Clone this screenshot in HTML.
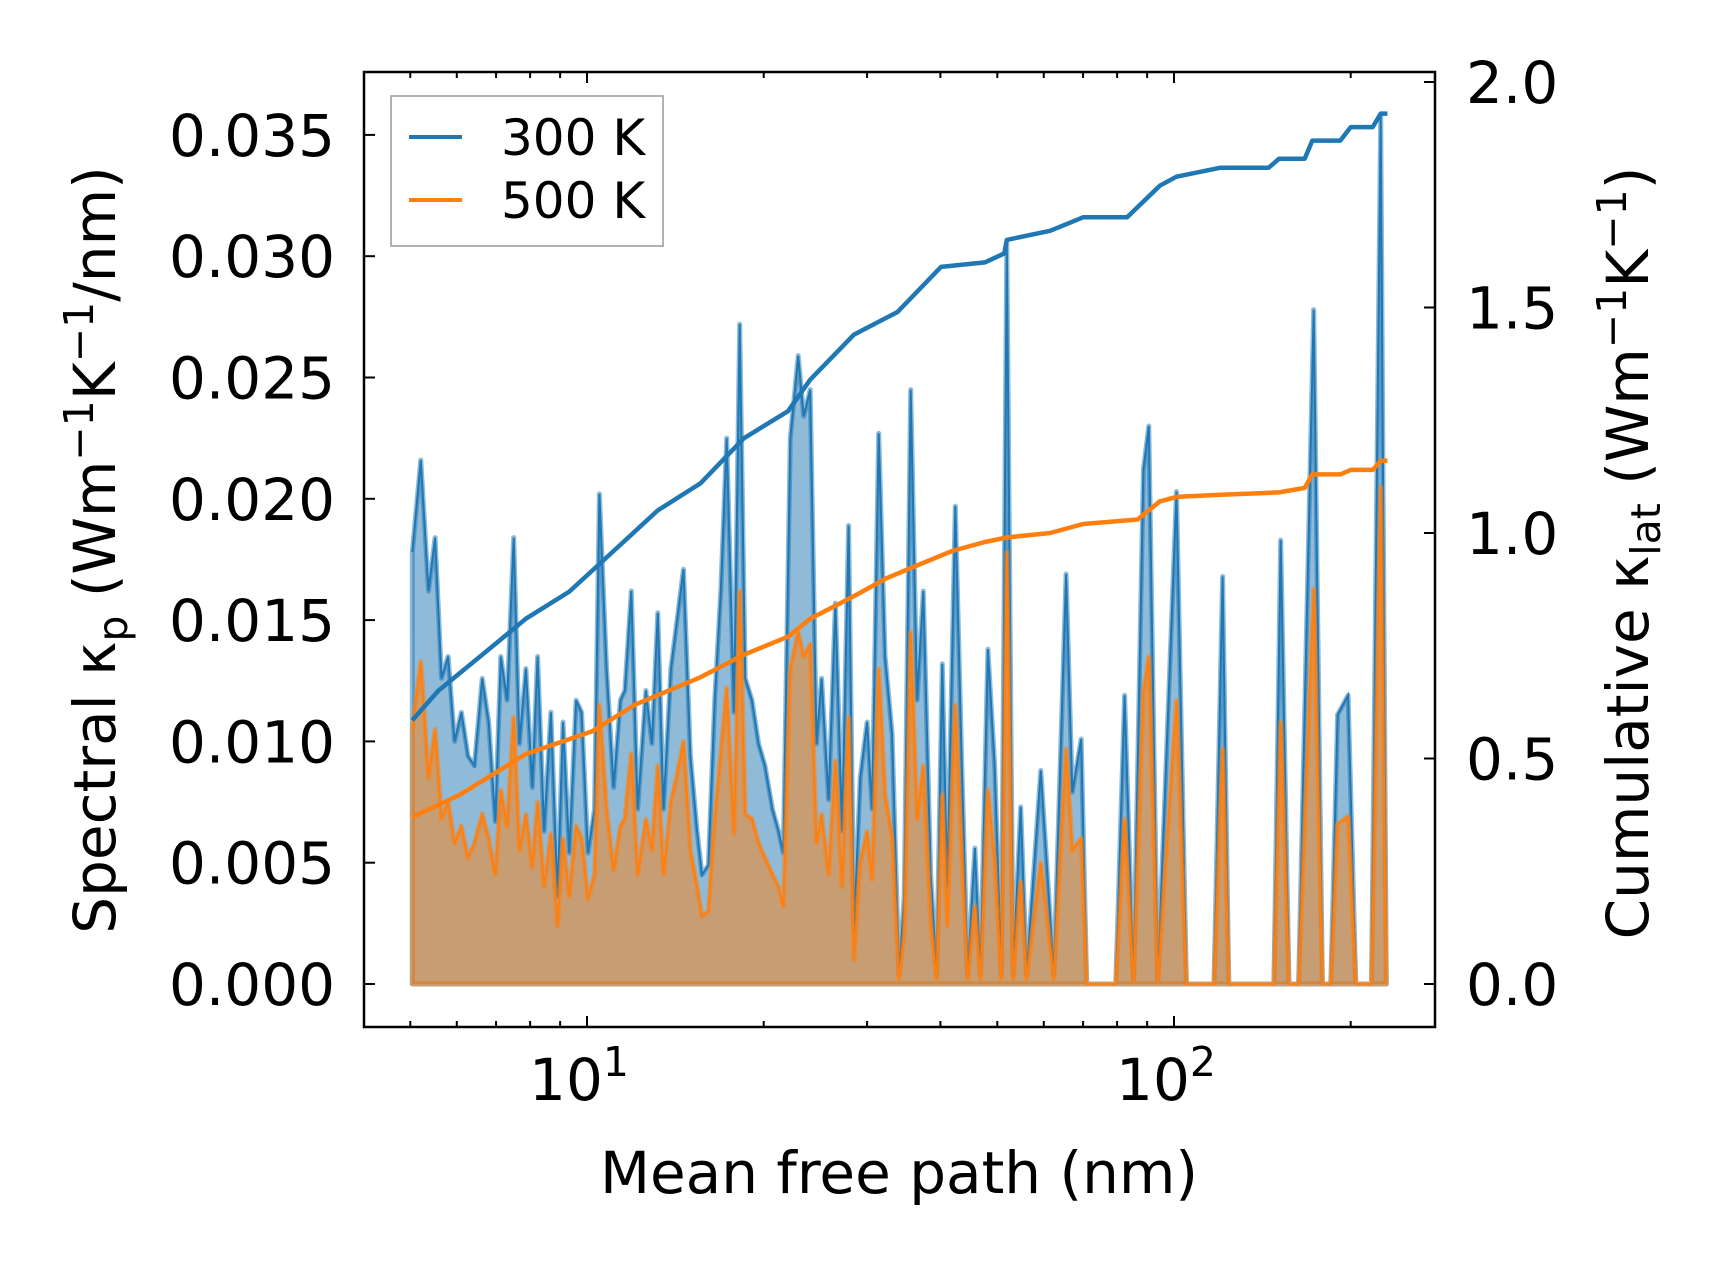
<!DOCTYPE html>
<html><head><meta charset="utf-8"><style>
html,body{margin:0;padding:0;background:#fff}
svg{display:block;font-family:"DejaVu Sans","Liberation Sans",sans-serif}
</style></head><body>
<svg id="chart" width="1716" height="1265" viewBox="0 0 1716 1265" style="position:absolute;left:0;top:0"></svg>
<script>
const mfp=[5.04,5.21,5.37,5.51,5.65,5.80,5.95,6.11,6.27,6.43,6.63,6.80,6.98,7.13,7.31,7.50,7.67,7.87,8.07,8.24,8.45,8.68,8.91,9.10,9.33,9.58,9.79,10.04,10.3,10.5,10.8,11.1,11.4,11.6,11.9,12.2,12.6,12.9,13.2,13.5,13.9,14.2,14.6,15.0,15.4,15.7,16.1,16.5,16.9,17.3,17.8,18.2,18.6,19.1,19.6,20.1,20.7,21.2,21.6,22.2,22.9,23.4,24.0,24.6,25.1,25.8,26.5,27.2,27.9,28.5,29.2,30.0,30.6,31.4,32.2,33.1,34.0,34.7,35.6,36.5,37.4,38.5,39.4,40.3,41.1,42.4,43.5,44.5,45.8,46.8,48.2,49.5,50.8,51.9,53.2,54.8,56.1,59.3,62.4,65.5,67.1,69.5,71.0,79.6,82.4,85.3,88.7,90.6,93.8,101,105,117,121,124,148,152,157,163,173,179,185,190,198,204,217,225,230];
const spec300=[.0178,.0216,.0162,.0184,.0126,.0135,.0100,.0112,.0094,.0090,.0126,.0108,.0067,.0135,.0117,.0184,.0099,.0130,.0081,.0135,.0063,.0112,.0036,.0108,.0054,.0117,.0112,.0054,.0072,.0202,.0130,.0081,.0117,.0121,.0162,.0072,.0121,.0099,.0153,.0072,.0130,.0148,.0171,.0094,.0063,.0045,.0049,.0117,.0162,.0225,.0112,.0272,.0126,.0117,.0099,.0090,.0072,.0063,.0054,.0225,.0259,.0234,.0245,.0099,.0126,.0076,.0157,.0063,.0189,.0022,.0085,.0108,.0072,.0227,.0135,.0103,.0004,.0036,.0245,.0117,.0162,.0045,.0004,.0132,.0040,.0197,.0090,.0004,.0056,.0004,.0138,.0090,.0004,.0305,.0004,.0073,.0004,.0088,.0004,.0169,.0079,.0101,0,0,.0119,0,.0212,.0230,0,.0203,0,0,.0168,0,0,.0183,0,0,.0278,0,0,.0111,.0119,0,0,.0358,0];
const spec500=[.0105,.0133,.0085,.0105,.0068,.0075,.0058,.0065,.0052,.0058,.0070,.0060,.0045,.0080,.0065,.0110,.0055,.0070,.0048,.0075,.0040,.0062,.0024,.0060,.0036,.0065,.0060,.0035,.0045,.0115,.0072,.0047,.0065,.0068,.0095,.0045,.0068,.0055,.0090,.0045,.0075,.0085,.0100,.0055,.0040,.0028,.0030,.0068,.0095,.0122,.0062,.0162,.0070,.0068,.0058,.0052,.0045,.0040,.0032,.0130,.0145,.0135,.0140,.0058,.0070,.0045,.0092,.0040,.0110,.0010,.0050,.0063,.0043,.0130,.0078,.0060,.0002,.0020,.0145,.0068,.0090,.0025,.0002,.0078,.0024,.0115,.0052,.0002,.0032,.0002,.0080,.0050,.0002,.0178,.0002,.0042,.0002,.0050,.0002,.0097,.0055,.0060,0,0,.0068,0,.0120,.0135,0,.0117,0,0,.0097,0,0,.0108,0,0,.0163,0,0,.0066,.0069,0,0,.0205,0];
const cumX300=[5.04,5.58,6.63,7.87,9.33,11.1,13.2,15.6,18.5,22.0,24.0,28.5,33.8,40.1,47.6,51.4,51.9,61.5,70.0,83.2,94.6,101,120,145,151,167,172,192,200,218,225,231];
const cum300=[.585,.65,.73,.81,.87,.96,1.05,1.11,1.21,1.27,1.34,1.44,1.49,1.59,1.60,1.62,1.65,1.67,1.70,1.70,1.77,1.79,1.81,1.81,1.83,1.83,1.87,1.87,1.90,1.90,1.93,1.93];
const cumX500=[5.04,6.08,7.87,10.2,12.1,15.6,18.5,22.0,24.0,28.5,32.4,36.8,41.9,47.6,51.9,61.5,70.0,86.7,94.6,101,120,151,167,172,192,200,218,225,231];
const cum500=[.37,.42,.51,.56,.62,.68,.73,.77,.81,.86,.90,.93,.96,.98,.99,1.00,1.02,1.03,1.07,1.08,1.085,1.09,1.10,1.13,1.13,1.14,1.14,1.16,1.16];
const leftTicks=["0.000","0.005","0.010","0.015","0.020","0.025","0.030","0.035"];
const rightTicks=["0.0","0.5","1.0","1.5","2.0"];
const xDecades=[1,2];

const L=364,R=1435,T=72,B=1027;
const sx=v=>587+Math.log10(v/10)*587;
const syL=v=>984-v/0.005*121.3;
const syR=v=>984-v*451;
const svg=document.getElementById('chart');
const NS='http://www.w3.org/2000/svg';
function mk(tag,attrs,parent){const e=document.createElementNS(NS,tag);for(const k in attrs)e.setAttribute(k,attrs[k]);(parent||svg).appendChild(e);return e;}

function area(xs,ys,color,name){
  let d='M'+sx(xs[0])+','+syL(0);
  xs.forEach((x,i)=>{d+=' L'+sx(x).toFixed(1)+','+syL(ys[i]).toFixed(1);});
  d+=' L'+sx(xs[xs.length-1])+','+syL(0)+' Z';
  const p=mk('path',{d:d,fill:color,'fill-opacity':0.5,stroke:color,'stroke-opacity':0.5,'stroke-width':5,'stroke-linejoin':'round'});
  
  
  const l=mk('polyline',{points:xs.map((x,i)=>sx(x).toFixed(1)+','+syL(ys[i]).toFixed(1)).join(' '),fill:'none',stroke:color,'stroke-width':2});
  
  
}
area(mfp,spec300,'#1f77b4','spectral-300k');
area(mfp,spec500,'#ff7f0e','spectral-500k');
function cum(xs,ys,color,name){
  const l=mk('polyline',{points:xs.map((x,i)=>sx(x).toFixed(1)+','+syR(ys[i]).toFixed(1)).join(' '),fill:'none',stroke:color,'stroke-width':4.5,'stroke-linejoin':'round'});
  
  
}
cum(cumX300,cum300,'#1f77b4','cumulative-300k');
cum(cumX500,cum500,'#ff7f0e','cumulative-500k');

const fr=mk('rect',{x:L,y:T,width:R-L,height:B-T,fill:'none',stroke:'#000','stroke-width':2.5});


leftTicks.forEach(t=>{const y=syL(parseFloat(t));
  mk('line',{x1:L,x2:L+11,y1:y,y2:y,stroke:'#000','stroke-width':2});
  const tx=mk('text',{x:L-29,y:y+21,'text-anchor':'end','font-size':58});tx.textContent=t;
  
  
});
rightTicks.forEach(t=>{const y=syR(parseFloat(t));
  mk('line',{x1:R,x2:R-11,y1:y,y2:y,stroke:'#000','stroke-width':2});
  const tx=mk('text',{x:R+31,y:y+21,'text-anchor':'start','font-size':58});tx.textContent=t;
  
  
});
for(let dec=0;dec<=2;dec++){for(let m=1;m<=9;m++){const v=m*Math.pow(10,dec);if(v<5||v>260)continue;const x=sx(v);const len=m===1?11:6;
  mk('line',{x1:x,x2:x,y1:B,y2:B-len,stroke:'#000','stroke-width':2});
  mk('line',{x1:x,x2:x,y1:T,y2:T+len,stroke:'#000','stroke-width':2});}}
xDecades.forEach(p=>{const x=sx(Math.pow(10,p));
  const tx=mk('text',{x:x-8,y:1100,'text-anchor':'middle','font-size':58});
  tx.appendChild(document.createTextNode('10'));
  const s=mk('tspan',{dy:-24,'font-size':41},tx);s.textContent=String(p);
  
  
});
</script>
<svg width="1716" height="1265" style="position:absolute;left:0;top:0;pointer-events:none">
  <g>
    <rect x="391" y="96" width="272" height="150" fill="#fff" fill-opacity="0.8" stroke="#999" stroke-width="1.5"/>
    <line x1="409" x2="462" y1="137" y2="137" stroke="#1f77b4" stroke-width="4"/>
    <text x="501" y="155" font-size="50">300 K</text>
    <line x1="409" x2="462" y1="200" y2="200" stroke="#ff7f0e" stroke-width="4"/>
    <text x="501" y="218" font-size="50">500 K</text>
  </g>
  <text x="899" y="1193" font-size="58" text-anchor="middle">Mean free path (nm)</text>
  <text transform="translate(115,550) rotate(-90)" font-size="58" text-anchor="middle">Spectral κ<tspan font-size="41" dy="12">p</tspan><tspan dy="-12"> (Wm</tspan><tspan font-size="41" dy="-22">−1</tspan><tspan dy="22">K</tspan><tspan font-size="41" dy="-22">−1</tspan><tspan dy="22">/nm)</tspan></text>
  <text transform="translate(1648,553) rotate(-90)" font-size="58" text-anchor="middle">Cumulative κ<tspan font-size="41" dy="12">lat</tspan><tspan dy="-12"> (Wm</tspan><tspan font-size="41" dy="-22">−1</tspan><tspan dy="22">K</tspan><tspan font-size="41" dy="-22">−1</tspan><tspan dy="22">)</tspan></text>
</svg>
</body></html>
